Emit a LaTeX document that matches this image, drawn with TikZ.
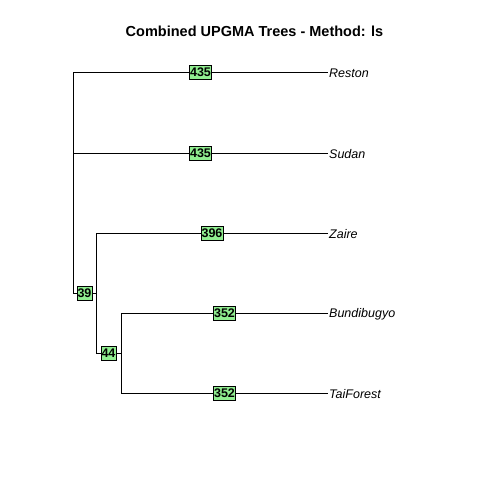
\documentclass[tikz,border=0pt]{standalone}
\usepackage{fontspec}
\setmainfont{Liberation Sans}
\begin{document}
\begin{tikzpicture}[x=1pt,y=-1pt,
  edge/.style={line width=0.9pt},
  lbl/.style={draw=black,fill=lightgreenc,line width=0.8pt,inner sep=0.6pt,minimum height=14pt,font=\fontsize{12.5}{12.5}\selectfont\bfseries},
  tip/.style={anchor=west,inner sep=1pt,font=\fontsize{12.5}{12.5}\selectfont\itshape}]
\definecolor{lightgreenc}{RGB}{144,238,144}
\useasboundingbox[fill=white] (0,0) rectangle (480,480);
\node[font=\fontsize{14.5}{14.5}\selectfont\bfseries] (title) at (254.5,31) {Combined UPGMA Trees - Method: ls};
% coordinates
\coordinate (r1) at (73,72);
\coordinate (r2) at (73,153);
\coordinate (r3) at (73,293);
\coordinate (n1) at (96,293);
\coordinate (n1a) at (96,233);
\coordinate (n1b) at (96,353);
\coordinate (n2) at (121,353);
\coordinate (n2a) at (121,313);
\coordinate (n2b) at (121,393);
% tips
\node[tip] (reston) at (328,73.5) {Reston};
\node[tip] (sudan) at (328,154.5) {Sudan};
\node[tip] (zaire) at (328,234.5) {Zaire};
\node[tip] (bundi) at (328,314.5) {Bundibugyo};
\node[tip] (tai) at (328,394.5) {TaiForest};
% edges
\draw[edge] (r1) -- (r3);
\draw[edge] (r1) -- (r1 -| reston.west);
\draw[edge] (r2) -- (r2 -| sudan.west);
\draw[edge] (r3) -- (n1);
\draw[edge] (n1a) -- (n1b);
\draw[edge] (n1a) -- (n1a -| zaire.west);
\draw[edge] (n1b) -- (n2);
\draw[edge] (n2a) -- (n2b);
\draw[edge] (n2a) -- (n2a -| bundi.west);
\draw[edge] (n2b) -- (n2b -| tai.west);
% labels
\path (r1) -- (r1 -| reston.west) node[midway,lbl] (l1) {435};
\path (r2) -- (r2 -| sudan.west) node[midway,lbl] (l2) {435};
\path (n1a) -- (n1a -| zaire.west) node[midway,lbl] (l3) {396};
\path (n2a) -- (n2a -| bundi.west) node[midway,lbl] (l4) {352};
\path (n2b) -- (n2b -| tai.west) node[midway,lbl] (l5) {352};
\path (r3) -- (n1) node[midway,lbl] (l6) {39};
\path (n1b) -- (n2) node[midway,lbl] (l7) {44};
\end{tikzpicture}
\end{document}
